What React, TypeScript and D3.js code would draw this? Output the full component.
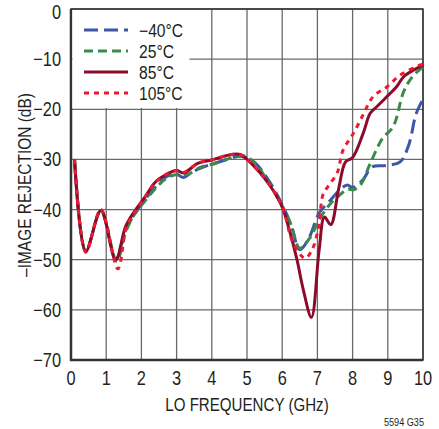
import React from "react";
import * as d3 from "d3";

const xTicks = [0, 1, 2, 3, 4, 5, 6, 7, 8, 9, 10];
const yTicks = [0, -10, -20, -30, -40, -50, -60, -70];

const fM40 = [0.1,0.42,0.85,1.27,1.55,1.8,2.1,2.4,2.7,3.0,3.2,3.45,3.85,4.3,4.85,5.2,5.6,6.0,6.25,6.5,6.75,7.05,7.35,7.6,7.85,8.0,8.3,8.55,8.95,9.35,9.6,9.8,10];
const vM40 = [-30,-48.3,-40.2,-50,-44,-41,-38,-35.5,-33.5,-33,-33.6,-32.5,-31.3,-30.3,-29.4,-30.5,-34,-39,-43,-48,-45.8,-40.7,-38.3,-36.3,-35.1,-35.6,-34,-31.5,-31.2,-30.5,-27,-21,-18];

const f25 = [0.1,0.42,0.85,1.3,1.55,1.8,2.1,2.4,2.7,3.0,3.3,3.7,4.1,4.5,4.85,5.2,5.6,6.0,6.25,6.5,6.8,7.05,7.35,7.6,7.85,8.05,8.25,8.5,8.85,9.15,9.45,9.7,10];
const v25 = [-30,-48.3,-40.2,-50.3,-44.5,-41,-38.3,-35.8,-33.8,-33,-33,-31.5,-30.8,-29.8,-29.2,-30.5,-34.5,-39.3,-43,-47.7,-45.5,-42,-39,-37.3,-36,-36,-34.8,-30.8,-25.8,-23.5,-16.5,-13.5,-11.5];

const f85 = [0.1,0.42,0.85,1.27,1.55,1.8,2.1,2.4,2.7,3.0,3.2,3.6,4.0,4.5,4.8,5.15,5.6,6.0,6.2,6.42,6.6,6.83,7.05,7.2,7.38,7.6,7.8,8.0,8.3,8.5,8.7,8.97,9.25,9.45,9.7,10];
const v85 = [-30,-48.3,-40.2,-50,-43.4,-40.4,-37.5,-34.5,-33,-32.2,-32.7,-30.8,-30.1,-29.1,-29,-31,-34.7,-39.5,-44,-50,-56,-61.5,-48,-41.5,-43,-36,-30.5,-29.6,-24.8,-20.8,-19.4,-17.5,-15.5,-13.5,-12.3,-11.2];

const f105 = [0.1,0.42,0.85,1.33,1.58,1.82,2.1,2.4,2.7,3.0,3.2,3.6,4.0,4.5,4.8,5.15,5.6,6.0,6.3,6.65,6.85,7.02,7.16,7.3,7.56,7.73,8.0,8.3,8.58,8.98,9.35,9.8,10];
const v105 = [-30,-48.5,-40,-51.8,-43.4,-40.4,-37.5,-34.5,-33,-32.2,-32.6,-30.8,-30.1,-29.1,-29,-31,-34.7,-39.3,-46.5,-49.7,-48,-44,-37,-35.4,-32.7,-28.1,-25.1,-21.1,-17.5,-15.5,-13.2,-11.5,-11];

const seriesNames = ["\u221240\u00b0C", "25\u00b0C", "85\u00b0C", "105\u00b0C"];

const FONT = "'Liberation Sans', Arial, Helvetica, sans-serif";

function CText(props: {
  x: number; y: number; size: number; sx?: number; anchor?: string; rotate?: number; children: React.ReactNode;
}) {
  const { x, y, size, sx = 0.83, anchor = "start", rotate = 0, children } = props;
  return (
    <g transform={`translate(${x},${y}) rotate(${rotate}) scale(${sx},1)`}>
      <text x={0} y={0} textAnchor={anchor} fontFamily={FONT} fontSize={size} fill="#231f20">{children}</text>
    </g>
  );
}

export default function App() {
  const L = 71, R = 423, T = 9, B = 360;
  const x = d3.scaleLinear().domain([0, 10]).range([L, R]);
  const y = d3.scaleLinear().domain([-70, 0]).range([B, T]);
  const line = d3
    .line<[number, number]>()
    .x((d) => x(d[0]))
    .y((d) => y(d[1]))
    .curve(d3.curveCatmullRom.alpha(0.5));
  const zip = (f: number[], v: number[]) => f.map((fi, i) => [fi, v[i]] as [number, number]);

  const series = [
    { name: seriesNames[0], d: zip(fM40, vM40), color: "#3b57a6", dash: "14,6" },
    { name: seriesNames[1], d: zip(f25, v25), color: "#3a8a4c", dash: "9,5" },
    { name: seriesNames[2], d: zip(f85, v85), color: "#8c0a2c", dash: "" },
    { name: seriesNames[3], d: zip(f105, v105), color: "#ee1830", dash: "5,5" },
  ];

  return (
    <svg width={439} height={429} style={{ display: "block", position: "absolute", left: 0, top: 0 }}>
      <rect x={0} y={0} width={439} height={429} fill="#fff" />
      {xTicks.map((t) => (
        <line key={"gx" + t} x1={x(t)} x2={x(t)} y1={T} y2={B} stroke="#6a6a6a" strokeWidth={1.3} />
      ))}
      {yTicks.map((t) => (
        <line key={"gy" + t} x1={L} x2={R} y1={y(t)} y2={y(t)} stroke="#6a6a6a" strokeWidth={1.3} />
      ))}
      <rect x={L} y={T} width={R - L} height={B - T} fill="none" stroke="#333" strokeWidth={1.5} />
      <line x1={L} x2={L} y1={T} y2={B + 1} stroke="#333" strokeWidth={2.5} />
      <line x1={L - 1} x2={R} y1={B} y2={B} stroke="#333" strokeWidth={2.5} />
      {/* legend box */}
      <rect x={L + 1.5} y={T + 1} width={117} height={98} fill="#fff" />
      {series.map((s) => (
        <path key={s.name} d={line(s.d) || ""} fill="none" stroke={s.color} strokeWidth={3}
          strokeDasharray={s.dash || undefined} strokeLinejoin="round" />
      ))}
      {series.map((s, i) => (
        <g key={"lg" + i}>
          <line x1={84} x2={128} y1={30 + i * 21} y2={30 + i * 21} stroke={s.color} strokeWidth={3}
            strokeDasharray={s.dash || undefined} />
          <CText x={139} y={30 + i * 21 + 6.5} size={18} sx={0.87}>{s.name}</CText>
        </g>
      ))}
      {xTicks.map((t) => (
        <CText key={"tx" + t} x={x(t)} y={385} size={20} sx={0.82} anchor="middle">{t}</CText>
      ))}
      {yTicks.map((t) => (
        <CText key={"ty" + t} x={61} y={y(t) + (t === 0 ? 9.5 : 7)} size={20} sx={0.82} anchor="end">
          {t === 0 ? "0" : "\u2212" + Math.abs(t)}
        </CText>
      ))}
      <CText x={(L + R) / 2} y={411} size={18} sx={0.84} anchor="middle">LO FREQUENCY (GHz)</CText>
      <CText x={31} y={185} size={18} sx={0.86} anchor="middle" rotate={-90}>{"\u2013IMAGE REJECTION (dB)"}</CText>
      <CText x={424} y={426} size={11} sx={0.83} anchor="end">5594 G35</CText>
    </svg>
  );
}
